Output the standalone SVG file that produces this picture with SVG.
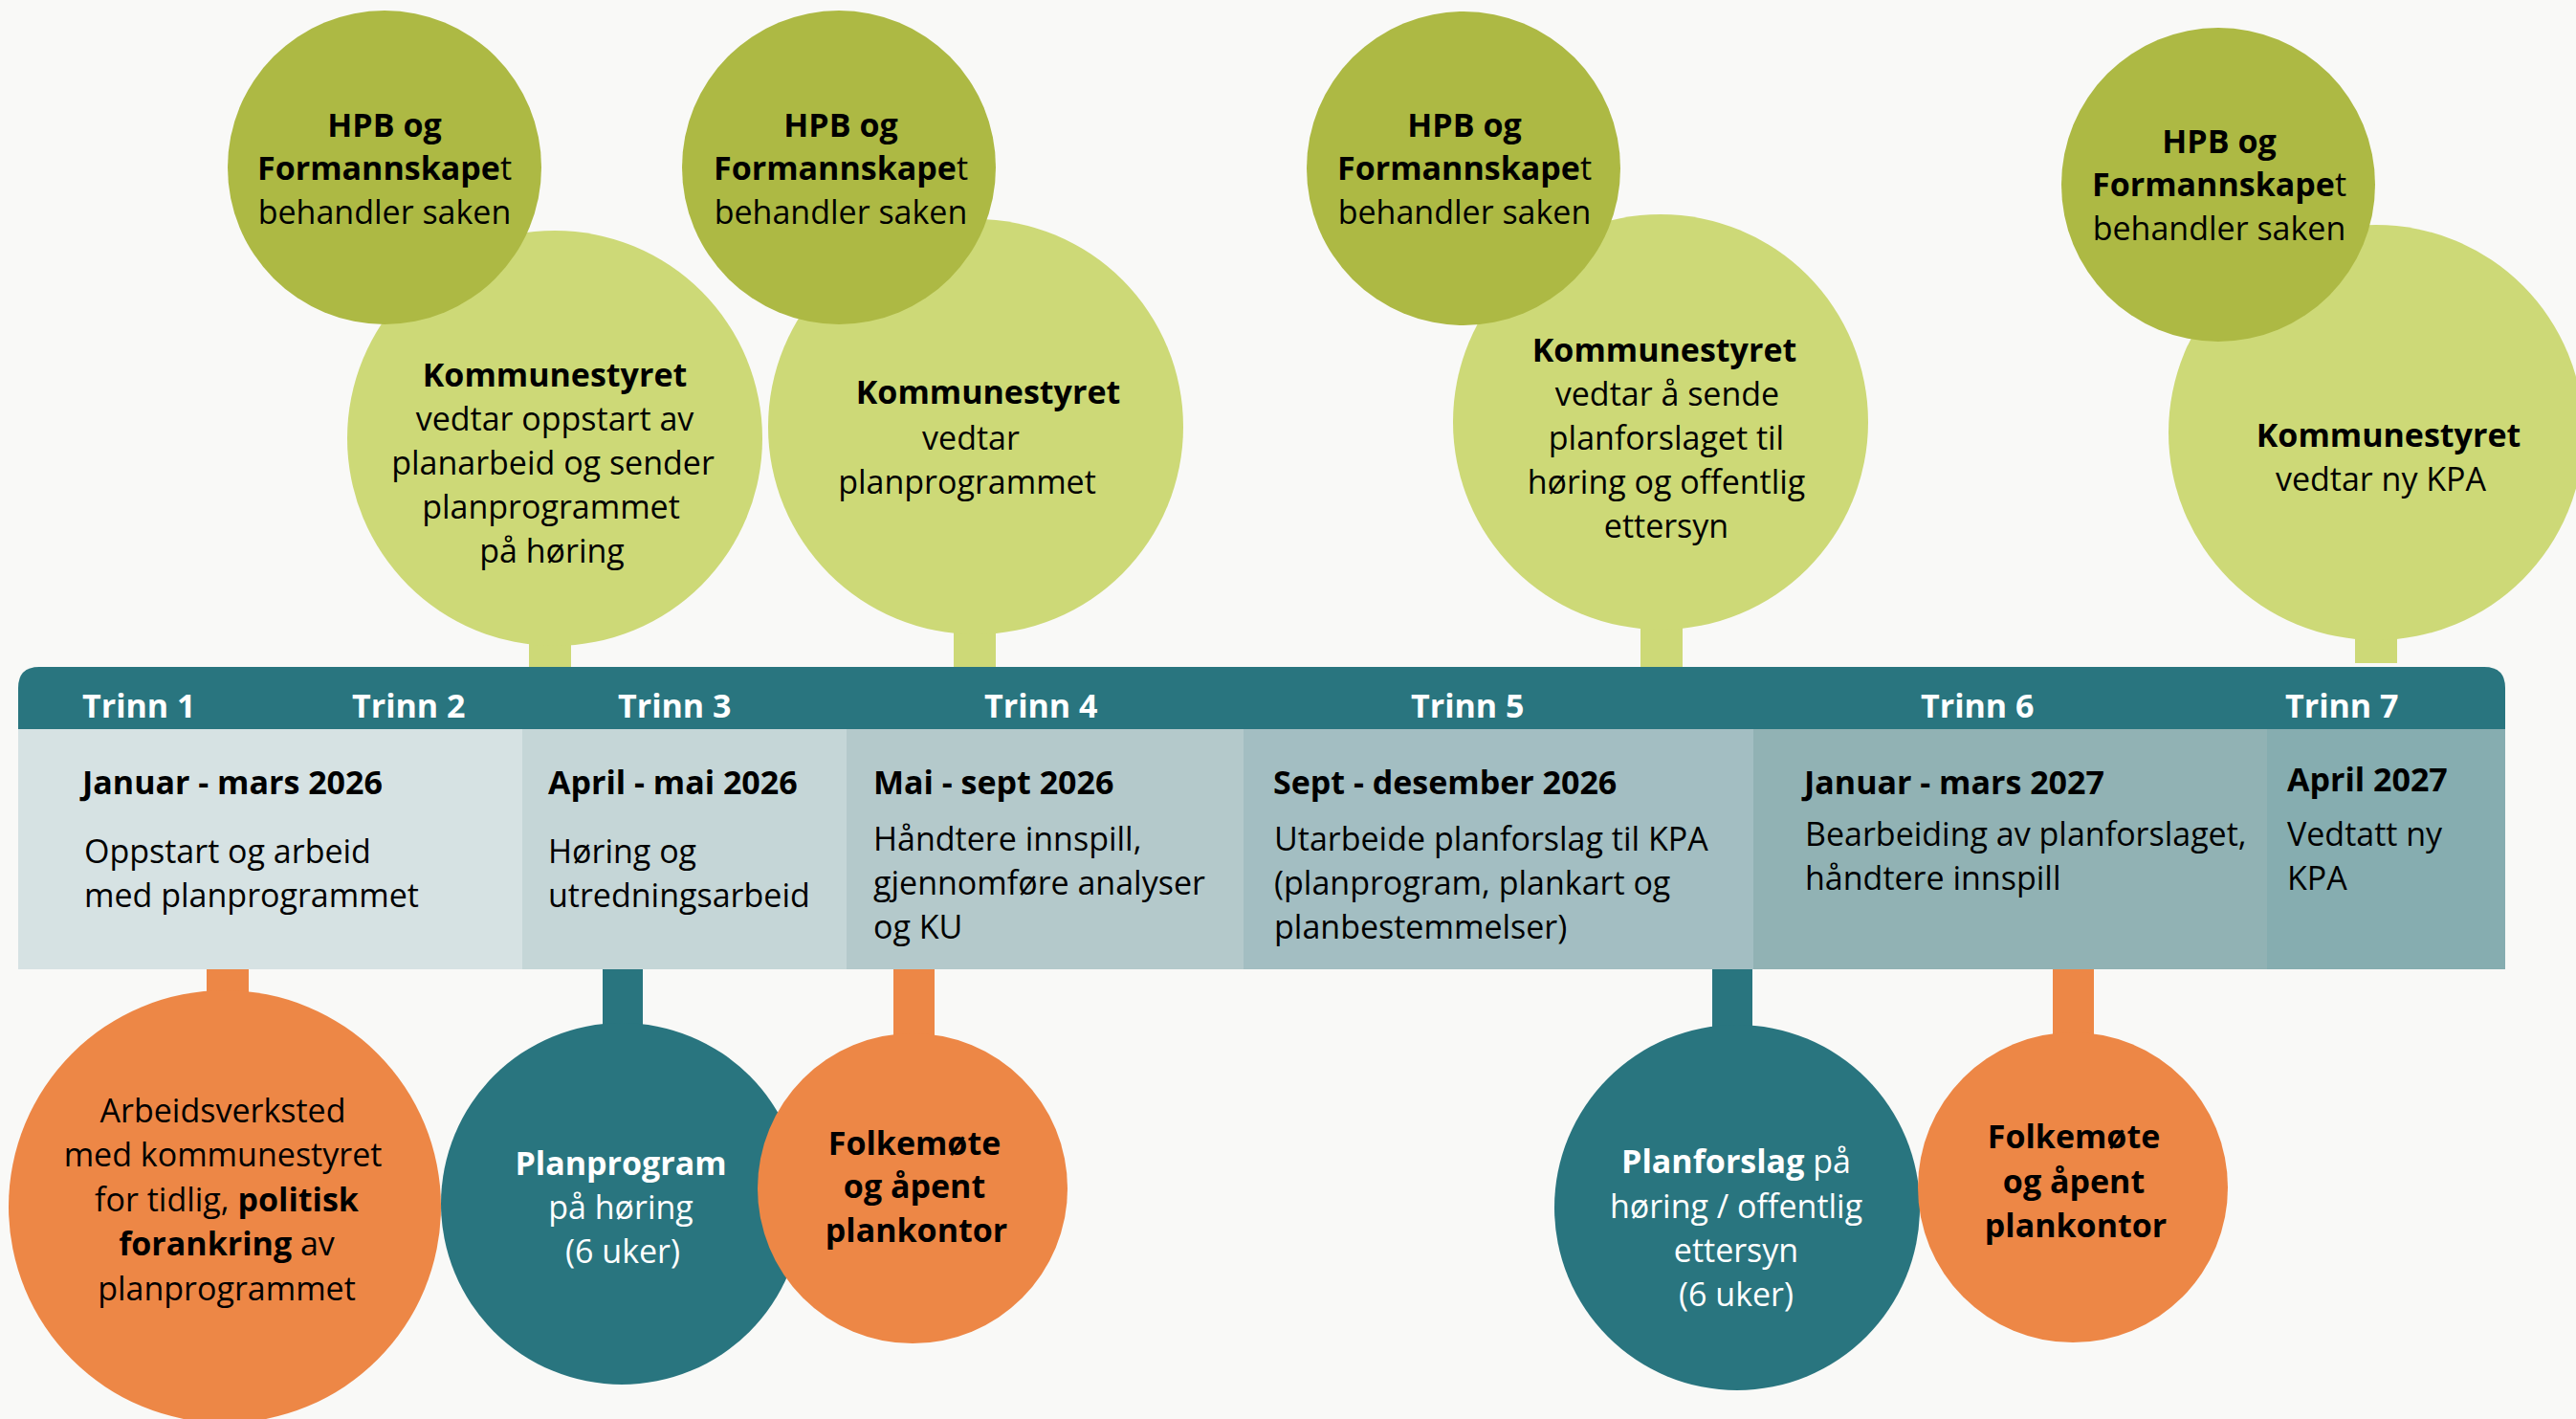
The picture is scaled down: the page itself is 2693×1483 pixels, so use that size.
<svg xmlns="http://www.w3.org/2000/svg" width="2693" height="1483" viewBox="0 0 2693 1483">
<style>
text{font-family:"Open Sans","Noto Sans","Liberation Sans",sans-serif;font-size:34px;fill:#000}
.b{font-weight:bold}
.c{text-anchor:middle}
.w{fill:#fff}
.olive{fill:#adb944}
.lgreen{fill:#cdd977}
.orange{fill:#ed8746}
.teal{fill:#29757f}
</style>
<rect x="0" y="0" width="2693" height="1483" fill="#f9f9f7"/>

<g id="connectors">
<rect class="lgreen" x="553" y="640" width="44" height="58"/>
<rect class="lgreen" x="997" y="630" width="44" height="68"/>
<rect class="lgreen" x="1715" y="630" width="44" height="68"/>
<rect class="lgreen" x="2462" y="640" width="44" height="53"/>
<rect class="orange" x="216" y="1010" width="44" height="40"/>
<rect class="teal" x="630" y="1010" width="42" height="75"/>
<rect class="orange" x="934" y="1010" width="43" height="85"/>
<rect class="teal" x="1790" y="1010" width="42" height="75"/>
<rect class="orange" x="2146" y="1010" width="43" height="85"/>
</g>

<g id="timeline">
<path d="M19,762 V719 Q19,697 41,697 H2597 Q2619,697 2619,719 V762 Z" fill="#29757f"/>
<rect x="19" y="762" width="527" height="251" fill="#d6e2e3"/>
<rect x="546" y="762" width="339" height="251" fill="#c5d6d7"/>
<rect x="885" y="762" width="415" height="251" fill="#b4c9cb"/>
<rect x="1300" y="762" width="533" height="251" fill="#a3bec2"/>
<rect x="1833" y="762" width="537" height="251" fill="#91b2b4"/>
<rect x="2370" y="762" width="249" height="251" fill="#86adb0"/>
<g class="b">
<text class="w" x="86" y="750">Trinn 1</text>
<text class="w" x="368" y="750">Trinn 2</text>
<text class="w" x="646" y="750">Trinn 3</text>
<text class="w" x="1029" y="750">Trinn 4</text>
<text class="w" x="1475" y="750">Trinn 5</text>
<text class="w" x="2008" y="750">Trinn 6</text>
<text class="w" x="2389" y="750">Trinn 7</text>
</g>
<text class="b" x="86" y="830">Januar - mars 2026</text>
<text x="88" y="902">Oppstart og arbeid</text>
<text x="88" y="948">med planprogrammet</text>
<text class="b" x="573" y="830">April - mai 2026</text>
<text x="573" y="902">Høring og</text>
<text x="573" y="948">utredningsarbeid</text>
<text class="b" x="913" y="830">Mai - sept 2026</text>
<text x="913" y="889">Håndtere innspill,</text>
<text x="913" y="935">gjennomføre analyser</text>
<text x="913" y="981">og KU</text>
<text class="b" x="1331" y="830">Sept - desember 2026</text>
<text x="1332" y="889">Utarbeide planforslag til KPA</text>
<text x="1332" y="935">(planprogram, plankart og</text>
<text x="1332" y="981">planbestemmelser)</text>
<text class="b" x="1886" y="830">Januar - mars 2027</text>
<text x="1887" y="884">Bearbeiding av planforslaget,</text>
<text x="1887" y="930">håndtere innspill</text>
<text class="b" x="2391" y="827">April 2027</text>
<text x="2391" y="884">Vedtatt ny</text>
<text x="2391" y="930">KPA</text>
</g>

<g id="ks1">
<circle class="lgreen" cx="580" cy="458" r="217"/>
<text class="c b" x="580" y="404">Kommunestyret</text>
<text class="c" x="580" y="450">vedtar oppstart av</text>
<text class="c" x="578" y="496">planarbeid og sender</text>
<text class="c" x="576" y="542">planprogrammet</text>
<text class="c" x="577" y="588">på høring</text>
</g>
<g id="hpb1">
<circle class="olive" cx="402" cy="175" r="164"/>
<text class="c b" x="402" y="143">HPB og</text>
<text class="c" x="402" y="188"><tspan class="b">Formannskape</tspan>t</text>
<text class="c" x="402" y="234">behandler saken</text>
</g>

<g id="ks2">
<circle class="lgreen" cx="1020" cy="446" r="217"/>
<text class="c b" x="1033" y="422">Kommunestyret</text>
<text class="c" x="1015" y="470">vedtar</text>
<text class="c" x="1011" y="516">planprogrammet</text>
</g>
<g id="hpb2">
<circle class="olive" cx="877" cy="175" r="164"/>
<text class="c b" x="879" y="143">HPB og</text>
<text class="c" x="879" y="188"><tspan class="b">Formannskape</tspan>t</text>
<text class="c" x="879" y="234">behandler saken</text>
</g>

<g id="ks3">
<circle class="lgreen" cx="1736" cy="441" r="217"/>
<text class="c b" x="1740" y="378">Kommunestyret</text>
<text class="c" x="1743" y="424">vedtar å sende</text>
<text class="c" x="1742" y="470">planforslaget til</text>
<text class="c" x="1742" y="516">høring og offentlig</text>
<text class="c" x="1742" y="562">ettersyn</text>
</g>
<g id="hpb3">
<circle class="olive" cx="1530" cy="176" r="164"/>
<text class="c b" x="1531" y="143">HPB og</text>
<text class="c" x="1531" y="188"><tspan class="b">Formannskape</tspan>t</text>
<text class="c" x="1531" y="234">behandler saken</text>
</g>

<g id="ks4">
<circle class="lgreen" cx="2484" cy="452" r="217"/>
<text class="c b" x="2497" y="467">Kommunestyret</text>
<text class="c" x="2489" y="513">vedtar ny KPA</text>
</g>
<g id="hpb4">
<circle class="olive" cx="2319" cy="193" r="164"/>
<text class="c b" x="2320" y="160">HPB og</text>
<text class="c" x="2320" y="205"><tspan class="b">Formannskape</tspan>t</text>
<text class="c" x="2320" y="251">behandler saken</text>
</g>

<g id="verksted">
<circle class="orange" cx="235" cy="1261" r="226"/>
<text class="c" x="233" y="1173">Arbeidsverksted</text>
<text class="c" x="233" y="1219">med kommunestyret</text>
<text class="c" x="237" y="1266">for tidlig, <tspan class="b">politisk</tspan></text>
<text class="c" x="237" y="1312"><tspan class="b">forankring</tspan> av</text>
<text class="c" x="237" y="1359">planprogrammet</text>
</g>

<g id="planprogram-horing">
<circle class="teal" cx="650" cy="1258" r="189"/>
<text class="c b w" x="649" y="1228">Planprogram</text>
<text class="c w" x="649" y="1274">på høring</text>
<text class="c w" x="651" y="1320">(6 uker)</text>
</g>

<g id="folkemote1">
<circle class="orange" cx="954" cy="1242" r="162"/>
<text class="c b" x="956" y="1207">Folkemøte</text>
<text class="c b" x="956" y="1252">og åpent</text>
<text class="c b" x="958" y="1298">plankontor</text>
</g>

<g id="planforslag-horing">
<circle class="teal" cx="1816" cy="1262" r="191"/>
<text class="c w" x="1815" y="1226"><tspan class="b">Planforslag</tspan> på</text>
<text class="c w" x="1815" y="1273">høring / offentlig</text>
<text class="c w" x="1815" y="1319">ettersyn</text>
<text class="c w" x="1815" y="1365">(6 uker)</text>
</g>

<g id="folkemote2">
<circle class="orange" cx="2167" cy="1241" r="162"/>
<text class="c b" x="2168" y="1200">Folkemøte</text>
<text class="c b" x="2168" y="1247">og åpent</text>
<text class="c b" x="2170" y="1293">plankontor</text>
</g>
</svg>
